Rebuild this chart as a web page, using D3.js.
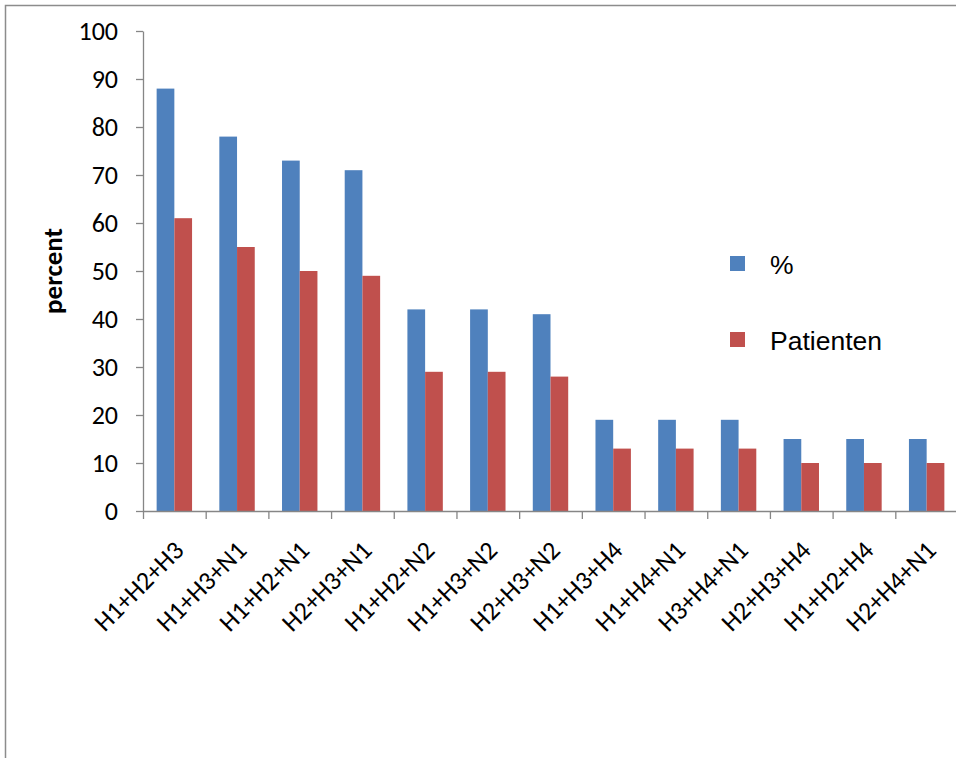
<!DOCTYPE html>
<html>
<head>
<meta charset="utf-8">
<script src="https://cdn.jsdelivr.net/npm/d3@7"></script>
<style>
  body { margin: 0; background: #fff; }
  svg { display: block; }
</style>
</head>
<body>
<svg id="canvas"></svg>
<script>
let categories = ["H1+H2+H3", "H1+H3+N1", "H1+H2+N1", "H2+H3+N1", "H1+H2+N2", "H1+H3+N2", "H2+H3+N2",
                  "H1+H3+H4", "H1+H4+N1", "H3+H4+N1", "H2+H3+H4", "H1+H2+H4", "H2+H4+N1"];
let percentValues = [88, 78, 73, 71, 42, 42, 41, 19, 19, 19, 15, 15, 15];
let patientValues = [61, 55, 50, 49, 29, 29, 28, 13, 13, 13, 10, 10, 10];
let seriesNames = ["%", "Patienten"];
let seriesColors = ["#4f81bd", "#c0504d"];
let yTicks = [0, 10, 20, 30, 40, 50, 60, 70, 80, 90, 100];

let width = 956;
let height = 758;
let plotLeft = 143;
let plotRight = 958;
let plotTop = 31;
let plotBottom = 511;

let canvas = d3.select("#canvas")
canvas.attr("width", width);
canvas.attr("height", height);

// chart frame (runs past the right and bottom edge)
canvas.append("rect")
      .attr("x", 5.5)
      .attr("y", 5.5)
      .attr("width", 1000)
      .attr("height", 800)
      .attr("fill", "none")
      .attr("stroke", "#8c8c8c")
      .attr("stroke-width", 1.5);

let xScale = d3.scaleBand()
               .domain(categories)
               .range([plotLeft, plotRight])
               .paddingInner(0.435)
               .paddingOuter(0.2175);

let seriesScale = d3.scaleBand()
                    .domain(seriesNames)
                    .range([0, xScale.bandwidth()]);

let yScale = d3.scaleLinear()
               .domain([0, 100])
               .range([plotBottom, plotTop]);

let rows = categories.map((c, i) => ({ cat: c, values: [percentValues[i], patientValues[i]] }));

let groups = canvas.selectAll("g.group")
                   .data(rows)
                   .enter()
                   .append("g")
                   .attr("class", "group")
                   .attr("transform", (d) => "translate(" + xScale(d.cat) + ",0)");

groups.selectAll("rect")
      .data((d) => d.values.map((v, k) => ({ name: seriesNames[k], value: v, color: seriesColors[k] })))
      .enter()
      .append("rect")
      .attr("x", (d) => seriesScale(d.name))
      .attr("width", seriesScale.bandwidth())
      .attr("y", (d) => yScale(d.value))
      .attr("height", (d) => plotBottom - yScale(d.value))
      .attr("fill", (d) => d.color);

// y axis
let yAxis = d3.axisLeft(yScale)
              .tickValues(yTicks)
              .tickSize(7)
              .tickPadding(18)
              .tickSizeOuter(0);

let yG = canvas.append("g")
      .attr("transform", "translate(" + plotLeft + ",0)")
      .call(yAxis);
yG.selectAll("text")
  .style("font-family", "Calibri, Carlito, Lato, sans-serif")
  .style("font-size", "26px")
  .attr("fill", "#000");

// x axis: tick marks between categories
let tickScale = d3.scaleLinear().domain([0, categories.length]).range([plotLeft, plotRight]);
let xTicks = d3.axisBottom(tickScale)
               .tickValues(d3.range(categories.length + 1))
               .tickFormat("")
               .tickSize(8)
               .tickSizeOuter(0);
canvas.append("g")
      .attr("transform", "translate(0," + plotBottom + ")")
      .call(xTicks);

// x labels
let xLabels = d3.axisBottom(xScale)
                .tickSize(0)
                .tickSizeOuter(0);
let xL = canvas.append("g")
      .attr("transform", "translate(0," + plotBottom + ")")
      .call(xLabels);
xL.select(".domain").remove();
xL.selectAll("text")
  .style("font-family", "Calibri, Carlito, Lato, sans-serif")
  .style("font-size", "26px")
  .attr("fill", "#000")
  .attr("text-anchor", "end")
  .attr("dy", "0")
  .attr("y", 0)
  .attr("transform", "translate(11,41) rotate(-45)");

canvas.selectAll(".domain, .tick line")
      .attr("stroke", "#868686")
      .attr("stroke-width", 1.3);

// y title
canvas.append("text")
      .attr("transform", "translate(62," + ((plotTop + plotBottom) / 2) + ") rotate(-90)")
      .attr("text-anchor", "middle")
      .style("font-family", "Calibri, Carlito, Lato, sans-serif")
      .style("font-weight", "bold")
      .style("font-size", "27px")
      .text("percent");

// legend
let legend = canvas.selectAll("g.legend")
                   .data(seriesNames)
                   .enter()
                   .append("g")
                   .attr("class", "legend")
                   .attr("transform", (d, i) => "translate(730," + (256 + i * 76) + ")");
legend.append("rect")
      .attr("width", 15)
      .attr("height", 15)
      .attr("fill", (d, i) => seriesColors[i]);
legend.append("text")
      .attr("x", 40)
      .attr("y", 18)
      .style("font-family", "'Liberation Sans', Arial, sans-serif")
      .style("font-size", "26.5px")
      .text((d) => d);
</script>
</body>
</html>
